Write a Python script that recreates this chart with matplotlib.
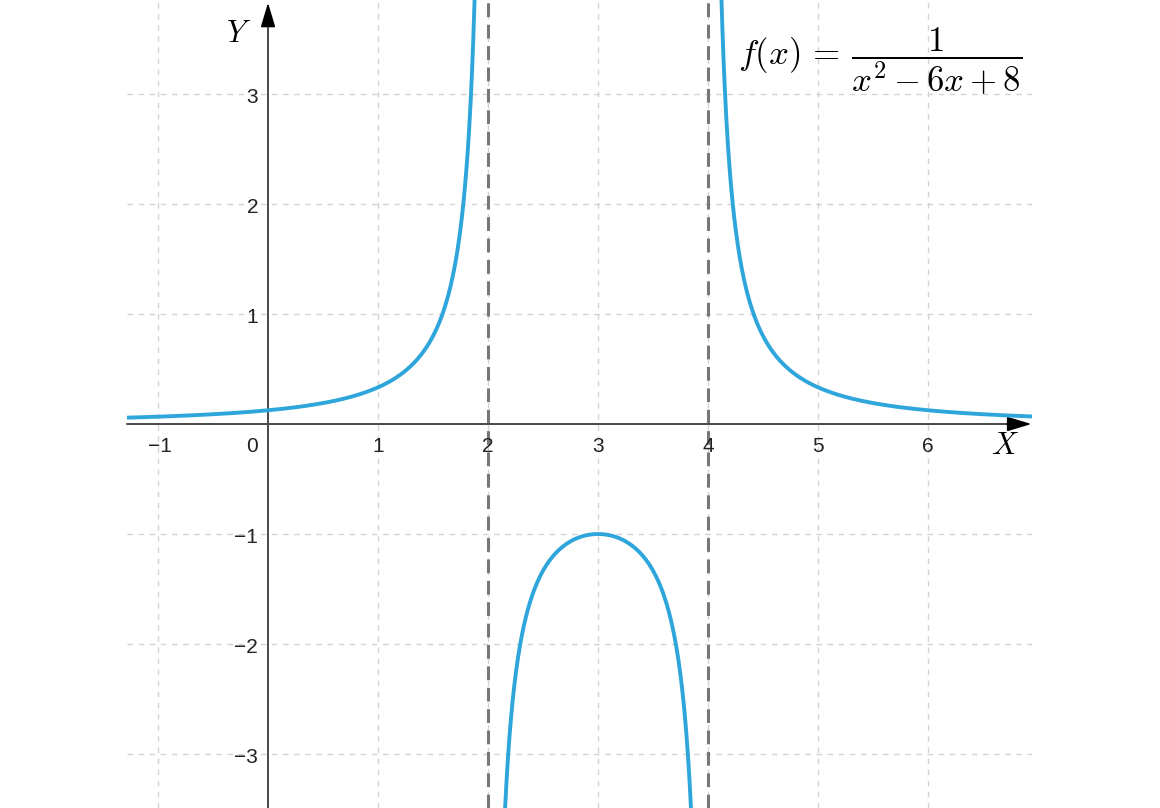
import numpy as np
import matplotlib.pyplot as plt

plt.rcParams['font.family'] = ['Liberation Sans', 'DejaVu Sans']
plt.rcParams['mathtext.fontset'] = 'cm'

# f(x) = 1 / (x^2 - 6x + 8)
coef = [1, -6, 8]
asymptotes = [2, 4]
x_ticks = [-1, 0, 1, 2, 3, 4, 5, 6]
y_ticks = [-3, -2, -1, 1, 2, 3]
x_lim = (-1.282, 6.945)
y_lim = (-3.491, 3.855)

fig = plt.figure(figsize=(11.6, 8.08), dpi=100)
ax = fig.add_axes([127 / 1160, 0, (1032 - 127) / 1160, 1])
ax.set_xlim(*x_lim)
ax.set_ylim(*y_lim)
for s in ax.spines.values():
    s.set_visible(False)
ax.set_xticks([])
ax.set_yticks([])

# grid
for xv in x_ticks:
    if xv != 0:
        ax.axvline(xv, color='#d2d2d2', lw=1, dashes=(4, 4), zorder=0)
for yv in y_ticks:
    ax.axhline(yv, color='#d2d2d2', lw=1, dashes=(4, 4), zorder=0)

# asymptotes
for a in asymptotes:
    ax.axvline(a, color='#777777', lw=2.2, dashes=(4.5, 2.5), zorder=2)

# axes with arrows
ax.annotate('', xy=(6.94, 0), xytext=(x_lim[0], 0),
            arrowprops=dict(arrowstyle='-|>,head_length=1.5,head_width=0.45',
                            color='black', lw=1.2, shrinkA=0, shrinkB=0), zorder=3)
ax.plot([x_lim[0], 6.7], [0, 0], color='#555555', lw=1.2, zorder=3)
ax.annotate('', xy=(0, 3.83), xytext=(0, y_lim[0]),
            arrowprops=dict(arrowstyle='-|>,head_length=1.5,head_width=0.45',
                            color='black', lw=1.2, shrinkA=0, shrinkB=0), zorder=3)
ax.plot([0, 0], [y_lim[0], 3.6], color='#555555', lw=1.2, zorder=3)

# curve pieces
def f(x):
    return 1 / (coef[0] * x**2 + coef[1] * x + coef[2])

pieces = [(x_lim[0], asymptotes[0] - 0.05), (asymptotes[0] + 0.05, asymptotes[1] - 0.05),
          (asymptotes[1] + 0.05, x_lim[1])]
for lo, hi in pieces:
    xs = np.linspace(lo, hi, 800)
    ax.plot(xs, f(xs), color='#2ea6dc', lw=2.8, zorder=4, solid_capstyle='butt')

# tick labels
for xv in x_ticks:
    lbl = str(xv).replace('-', '\u2212')
    px = -0.15 if xv == 0 else xv + (0.02 if xv == -1 else 0)
    ax.text(px, -0.2, lbl, ha='center', va='center', fontsize=15, color='#222222')
for yv in y_ticks:
    lbl = str(yv).replace('-', '\u2212')
    ax.text(-0.09, yv - 0.03, lbl, ha='right', va='center', fontsize=15, color='#222222')

ax.text(-0.27, 3.55, r'$Y$', fontsize=22, ha='center', va='center')
ax.text(6.7, -0.2, r'$X$', fontsize=22, ha='center', va='center')

ax.text(6.86, 3.3, r'$f(x)\,=\,\dfrac{1}{x^2-6x+8}$', fontsize=25, ha='right', va='center')

fig.savefig('out.png', dpi=100)
